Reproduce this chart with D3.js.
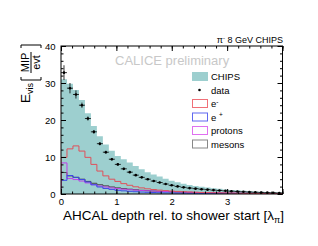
<!DOCTYPE html>
<html>
<head>
<meta charset="utf-8">
<script src="https://cdn.jsdelivr.net/npm/d3@7"></script>
<style>
body { margin: 0; background: #fff; }
svg { display: block; font-family: "Liberation Sans", Arial, sans-serif; }
</style>
</head>
<body>
<svg width="318" height="246"></svg>
<script>
// bin width in lambda_pi, 37 bins from 0
var binWidth = 0.108;

var dataVals = [32.8, 28.6, 26.9, 24.0, 20.4, 16.8, 13.6, 11.3, 9.4, 8.0, 6.8, 5.9, 5.1, 4.5, 4.0, 3.5, 3.1, 2.7, 2.35, 2.05, 1.8, 1.6, 1.45, 1.3, 1.18, 1.05, 0.95, 0.85, 0.76, 0.68, 0.6, 0.53, 0.47, 0.42, 0.37, 0.33, 0.29];
var dataErr = [2.0, 1.4, 1.1, 0.7, 0.55, 0.5, 0.45, 0.4, 0.35, 0.3, 0.3, 0.25, 0.25, 0.2, 0.2, 0.2, 0.2, 0.15, 0.15, 0.15, 0.15, 0.15, 0.15, 0.15, 0.15, 0.15, 0.15, 0.15, 0.15, 0.15, 0.15, 0.15, 0.15, 0.15, 0.15, 0.15, 0.15];
var chips = [31.0, 29.8, 28.1, 25.4, 21.8, 18.4, 15.6, 13.4, 11.7, 10.3, 9.4, 8.5, 7.6, 6.7, 5.9, 5.3, 4.7, 4.1, 3.6, 3.15, 2.8, 2.45, 2.15, 1.95, 1.75, 1.55, 1.4, 1.25, 1.1, 1.0, 0.88, 0.78, 0.68, 0.6, 0.52, 0.45, 0.4];
var eMinus = [9.9, 12.2, 13.0, 11.6, 9.9, 8.0, 6.2, 4.9, 4.0, 3.4, 2.8, 2.35, 1.95, 1.65, 1.4, 1.2, 1.05, 0.92, 0.8, 0.7, 0.62, 0.55, 0.48, 0.42, 0.37, 0.33, 0.29, 0.26, 0.23, 0.2, 0.18, 0.16, 0.14, 0.12, 0.11, 0.1, 0.09];
var ePlus = [3.7, 5.0, 4.5, 3.9, 3.25, 2.5, 1.9, 1.5, 1.25, 1.0, 0.85, 0.72, 0.62, 0.53, 0.46, 0.4, 0.35, 0.31, 0.27, 0.24, 0.21, 0.19, 0.17, 0.15, 0.13, 0.12, 0.1, 0.09, 0.08, 0.07, 0.065, 0.06, 0.05, 0.045, 0.04, 0.035, 0.03];
var protons = [8.4, 4.2, 3.9, 3.5, 3.0, 2.5, 2.15, 1.9, 1.65, 1.45, 1.3, 1.15, 1.05, 0.95, 0.87, 0.8, 0.73, 0.67, 0.61, 0.56, 0.51, 0.47, 0.43, 0.39, 0.36, 0.33, 0.3, 0.27, 0.25, 0.23, 0.21, 0.19, 0.17, 0.16, 0.15, 0.14, 0.13];
var mesons = [5.8, 4.9, 4.5, 4.0, 3.4, 2.9, 2.5, 2.2, 1.9, 1.65, 1.45, 1.3, 1.15, 1.0, 0.9, 0.8, 0.72, 0.65, 0.58, 0.52, 0.47, 0.42, 0.38, 0.34, 0.31, 0.28, 0.25, 0.23, 0.2, 0.18, 0.16, 0.15, 0.13, 0.12, 0.11, 0.1, 0.09];

var xTicks = [0, 1, 2, 3];
var yTicks = [0, 10, 20, 30, 40];

var svg = d3.select("svg");
var x = d3.scaleLinear().domain([0, 4]).range([61, 282.5]);
var y = d3.scaleLinear().domain([0, 40]).range([194, 46]);

svg.append("clipPath").attr("id", "frame")
  .append("rect")
    .attr("x", x(0)).attr("y", y(40))
    .attr("width", x(4) - x(0)).attr("height", y(0) - y(40));

var plot = svg.append("g").attr("clip-path", "url(#frame)");

function steps(vals) {
  var pts = [[0, 0]];
  vals.forEach(function(v, i) {
    pts.push([i * binWidth, v]);
    pts.push([(i + 1) * binWidth, v]);
  });
  pts.push([vals.length * binWidth, 0]);
  return pts;
}

var line = d3.line()
  .x(function(d) { return x(d[0]); })
  .y(function(d) { return y(d[1]); });

plot.append("path")
  .attr("d", line(steps(chips)) + "Z")
  .attr("fill", "#9dcfcf");

var comps = [
  {vals: mesons, color: "#444444"},
  {vals: protons, color: "#c040e8"},
  {vals: ePlus, color: "#3c48e8"},
  {vals: eMinus, color: "#e0505a"}
];
plot.selectAll(".comp")
  .data(comps)
  .enter().append("path")
    .attr("class", "comp")
    .attr("d", function(d) { return line(steps(d.vals)); })
    .attr("fill", "none")
    .attr("stroke", function(d) { return d.color; })
    .attr("stroke-width", 1);

// data points with error bars
var pts = plot.selectAll(".pt")
  .data(dataVals)
  .enter().append("g")
    .attr("class", "pt");
pts.append("line")
  .attr("x1", function(d, i) { return x(i * binWidth); })
  .attr("x2", function(d, i) { return x((i + 1) * binWidth); })
  .attr("y1", function(d) { return y(d); })
  .attr("y2", function(d) { return y(d); })
  .attr("stroke", "#000").attr("stroke-width", 0.8);
pts.append("line")
  .attr("x1", function(d, i) { return x((i + 0.5) * binWidth); })
  .attr("x2", function(d, i) { return x((i + 0.5) * binWidth); })
  .attr("y1", function(d, i) { return y(d + dataErr[i]); })
  .attr("y2", function(d, i) { return y(d - dataErr[i]); })
  .attr("stroke", "#000").attr("stroke-width", 0.8);
pts.append("circle")
  .attr("cx", function(d, i) { return x((i + 0.5) * binWidth); })
  .attr("cy", function(d) { return y(d); })
  .attr("r", 1.3)
  .attr("fill", "#000");

// axes, ROOT style ticks on all four sides
function addAxis(axisFn, scale, major, minor, transform, labels) {
  var g1 = svg.append("g").attr("transform", transform)
    .call(axisFn(scale).tickValues(major).tickSize(-5).tickSizeOuter(0).tickPadding(labels ? 4 : 0)
      .tickFormat(labels ? d3.format("d") : ""));
  var g2 = svg.append("g").attr("transform", transform)
    .call(axisFn(scale).tickValues(minor).tickSize(-2.5).tickSizeOuter(0).tickFormat(""));
  [g1, g2].forEach(function(g) {
    g.select(".domain").remove();
    g.selectAll("line").attr("stroke", "#000");
    g.selectAll("text").attr("font-size", 9.5).attr("fill", "#000")
      .attr("font-family", "Liberation Sans, Arial, sans-serif");
  });
  return g1;
}
var xMinor = d3.range(0, 4.01, 0.2);
var yMinor = d3.range(0, 40.1, 2);
addAxis(d3.axisBottom, x, xTicks.concat([4]), xMinor, "translate(0," + y(0) + ")", true)
  .selectAll(".tick").filter(function(d) { return xTicks.indexOf(d) < 0; }).select("text").remove();
addAxis(d3.axisTop, x, xTicks.concat([4]), xMinor, "translate(0," + y(40) + ")", false);
addAxis(d3.axisLeft, y, yTicks, yMinor, "translate(" + x(0) + ",0)", true)
  .selectAll("text").attr("x", -5.5);
addAxis(d3.axisRight, y, yTicks, yMinor, "translate(" + x(4) + ",0)", false);

svg.append("rect")
  .attr("x", x(0)).attr("y", y(40))
  .attr("width", x(4) - x(0)).attr("height", y(0) - y(40))
  .attr("fill", "none").attr("stroke", "#000").attr("stroke-width", 1);

// x-axis title
var xt = svg.append("text")
  .attr("x", 284).attr("y", 220)
  .attr("text-anchor", "end")
  .attr("font-size", 13.5);
xt.append("tspan").text("AHCAL depth rel. to shower start [λ");
xt.append("tspan").attr("font-size", 9).attr("dy", 3).text("π");
xt.append("tspan").attr("dy", -3).text("]");

// y-axis title E_vis [MIP/evt], rotated
var yt = svg.append("g");
var ev = yt.append("text")
  .attr("transform", "translate(30,103) rotate(-90)")
  .attr("font-size", 13.5);
ev.append("tspan").text("E");
ev.append("tspan").attr("font-size", 9).attr("dy", 3).text("vis");
yt.append("path")
  .attr("d", "M21,77V80H41V77M21,48V45H41V48")
  .attr("fill", "none").attr("stroke", "#000").attr("stroke-width", 1);
yt.append("text")
  .attr("transform", "translate(29,62.5) rotate(-90)")
  .attr("text-anchor", "middle").attr("font-size", 11)
  .text("MIP");
yt.append("line")
  .attr("x1", 31).attr("x2", 31).attr("y1", 52).attr("y2", 73)
  .attr("stroke", "#000").attr("stroke-width", 1);
yt.append("text")
  .attr("transform", "translate(40,62.5) rotate(-90)")
  .attr("text-anchor", "middle").attr("font-size", 11)
  .text("evt");

// header texts
var title = svg.append("text")
  .attr("x", 283).attr("y", 43)
  .attr("text-anchor", "end").attr("font-size", 9);
title.append("tspan").text("π");
title.append("tspan").attr("font-size", 6).attr("dy", -3).text("-");
title.append("tspan").attr("dy", 3).text(" 8 GeV CHIPS");

svg.append("text")
  .attr("x", 115).attr("y", 65)
  .attr("font-size", 13)
  .attr("fill", "#c8c8c8")
  .text("CALICE preliminary");

// legend
var legendNames = ["CHIPS", "data", "e", "e ", "protons", "mesons"];
var legendSup = ["", "", "-", "+", "", ""];
var legendColors = [null, null, "#f07078", "#6068f0", "#e070f0", "#888888"];
var leg = svg.append("g");
legendNames.forEach(function(name, i) {
  var yb = 80 + i * 13.5;
  if (i === 0) {
    leg.append("rect").attr("x", 192).attr("y", yb - 8).attr("width", 16).attr("height", 9)
      .attr("fill", "#9dcfcf");
  } else if (i === 1) {
    leg.append("circle").attr("cx", 199.5).attr("cy", yb - 3.5).attr("r", 1.3).attr("fill", "#000");
  } else {
    leg.append("rect").attr("x", 192.5).attr("y", yb - 7.5).attr("width", 15).attr("height", 8)
      .attr("fill", "none").attr("stroke", legendColors[i]).attr("stroke-width", 1);
  }
  var t = leg.append("text").attr("x", 211).attr("y", yb).attr("font-size", 9.5);
  t.append("tspan").text(name);
  if (legendSup[i]) t.append("tspan").attr("font-size", 6.5).attr("dy", -3.5).text(legendSup[i]);
});
</script>
</body>
</html>
